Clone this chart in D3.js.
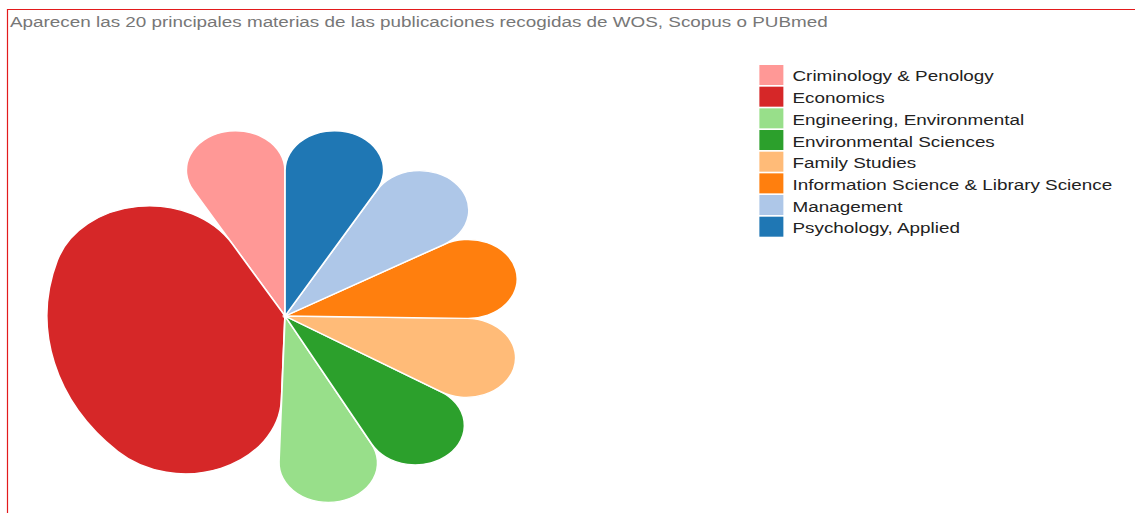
<!DOCTYPE html>
<html>
<head>
<meta charset="utf-8">
<script src="https://cdn.jsdelivr.net/npm/d3@7"></script>
<style>
  body { margin: 0; background: #fff; }
  svg { display: block; }
  text { font-family: "Liberation Sans", Arial, sans-serif; }
</style>
</head>
<body>
<div id="chart"></div>
<script>
// subjects, in legend order
var materias = [
    "Criminology & Penology",
    "Economics",
    "Engineering, Environmental",
    "Environmental Sciences",
    "Family Studies",
    "Information Science & Library Science",
    "Management",
    "Psychology, Applied"
];
// publications per subject
var publicaciones = [8, 39, 8, 8, 8, 8, 8, 8];
var colores = ["#ff9896", "#d62728", "#98df8a", "#2ca02c", "#ffbb78", "#ff7f0e", "#aec7e8", "#1f77b4"];
var titulo = "Aparecen las 20 principales materias de las publicaciones recogidas de WOS, Scopus o PUBmed";

var svgWidth = 1135;
var svgHeight = 513;
// the picture is stretched sideways, draw in the narrow space and scale
var stretch = 1.25;
var radius = 190.5;
var center = { x: 228, y: 316 };

var svg = d3.select("#chart")
    .append("svg")
    .attr("width", svgWidth)
    .attr("height", svgHeight);

// red frame (top and left edges only are visible)
svg.append("path")
    .attr("d", "M7.5," + svgHeight + "V9.5H" + svgWidth)
    .attr("fill", "none")
    .attr("stroke", "#e31a1c")
    .attr("stroke-width", 1.2);

var g = svg.append("g")
    .attr("transform", "scale(" + stretch + ",1)");

g.append("text")
    .attr("x", 8)
    .attr("y", 27.5)
    .attr("font-size", 15.1)
    .attr("fill", "#777")
    .text(titulo);

var color = d3.scaleOrdinal().domain(materias).range(colores);

var pie = d3.pie()
    .sort(null)
    .value(function(d) { return d.value; })
    .startAngle(0)
    .endAngle(-2 * Math.PI);

var arc = d3.arc()
    .innerRadius(0)
    .outerRadius(radius)
    .cornerRadius(77);

var datos = materias.map(function(m, i) {
    return { name: m, value: publicaciones[i] };
});

var pieGroup = g.append("g")
    .attr("transform", "translate(" + center.x + "," + center.y + ")");

pieGroup.selectAll("path")
    .data(pie(datos))
    .enter()
    .append("path")
    .attr("d", arc)
    .attr("fill", function(d) { return color(d.data.name); })
    .attr("stroke", "#fff")
    .attr("stroke-width", 1.4);

// legend
var legend = g.append("g")
    .attr("transform", "translate(607.5,65)");

var rows = legend.selectAll("g")
    .data(materias)
    .enter()
    .append("g")
    .attr("transform", function(d, i) { return "translate(0," + (i * 21.67) + ")"; });

rows.append("rect")
    .attr("width", 19.2)
    .attr("height", 20)
    .attr("fill", function(d) { return color(d); });

rows.append("text")
    .attr("x", 26.5)
    .attr("y", 16.5)
    .attr("font-size", 15.1)
    .attr("fill", "#222")
    .text(function(d) { return d; });
</script>
</body>
</html>
